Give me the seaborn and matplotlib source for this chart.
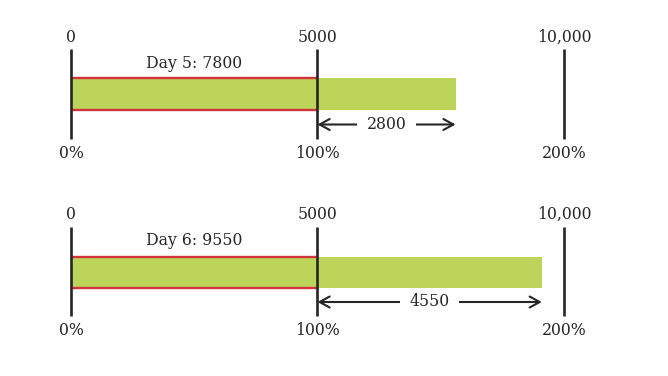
import matplotlib
matplotlib.use("Agg")
import matplotlib.pyplot as plt
import matplotlib.transforms as mtransforms
import seaborn as sns
import pandas as pd

# ---- data ----
days = ["Day 5", "Day 6"]
values = [7800, 9550]
target = 5000
scale_ticks = [0, 5000, 10000]
scale_labels = ["0", "5000", "10,000"]
pct_labels = ["0%", "100%", "200%"]

# ---- style ----
W, H = 668, 376
green = "#bdd45a"
red = "#d2343a"
ink = "#262626"
font = "DejaVu Serif"
fs = 11.3

sns.set_theme(style="white")
plt.rcParams["font.family"] = [font]

fig = plt.figure(figsize=(W / 100, H / 100), dpi=100)
pix = mtransforms.Affine2D().scale(1, -1).translate(0, H)  # y in pixels from top

# panel layout in pixel rows (top of panel offsets)
panel_off = [0, 177.5]
bar_px = [(78, 110), (257, 287.5)]

px_per_unit = (564 - 71) / 10000.0
xl = (-71 / px_per_unit, (W - 71) / px_per_unit)

for i, (day, val) in enumerate(zip(days, values)):
    ax = fig.add_axes([0, 0, 1, 1])
    ax.patch.set_alpha(0)
    df = pd.DataFrame({"day": [day], "value": [val]})
    sns.barplot(data=df, x="value", y="day", orient="h", color=green,
                saturation=1, width=0.8, ax=ax, edgecolor="none", linewidth=0)
    for p in ax.patches:
        p.set_zorder(7)
    top, bot = bar_px[i]
    u = 0.8 / (bot - top)
    ax.set_ylim(0.4 + (H - bot) * u, -0.4 - top * u)
    ax.set_xlim(*xl)
    ax.axis("off")

    tr = mtransforms.blended_transform_factory(ax.transData, pix)
    o = panel_off[i]

    # red target outline (0 to target)
    for yy in (top, bot):
        ax.plot([0, target], [yy, yy], color=red, lw=1.7, transform=tr,
                solid_capstyle="butt", zorder=8)

    # scale lines and labels
    for t, lab, pl in zip(scale_ticks, scale_labels, pct_labels):
        ax.plot([t, t], [o + 49, o + 138.5], color=ink, lw=1.9, transform=tr,
                solid_capstyle="butt", zorder=9)
        ax.text(t, o + 37, lab, transform=tr, ha="center", va="center",
                fontsize=fs, color=ink)
        ax.text(t, o + 153, pl, transform=tr, ha="center", va="center",
                fontsize=fs, color=ink)

    # day label
    ax.text(target / 2, o + 63, f"{day}: {val}", transform=tr, ha="center",
            va="center", fontsize=fs, color=ink)

    # excess arrow
    ay = o + 124.5
    ax.annotate("", xy=(val, ay), xytext=(target, ay), xycoords=tr,
                textcoords=tr,
                arrowprops=dict(arrowstyle="<->,head_length=0.6,head_width=0.33",
                                color=ink, lw=1.5, shrinkA=0, shrinkB=0),
                zorder=4)
    ax.text((val + target) / 2, ay, f"{val - target}", transform=tr,
            ha="center", va="center", fontsize=fs, color=ink, zorder=5,
            bbox=dict(boxstyle="square,pad=0.6", fc="white", ec="none"))

fig.savefig("out.png", dpi=100)
